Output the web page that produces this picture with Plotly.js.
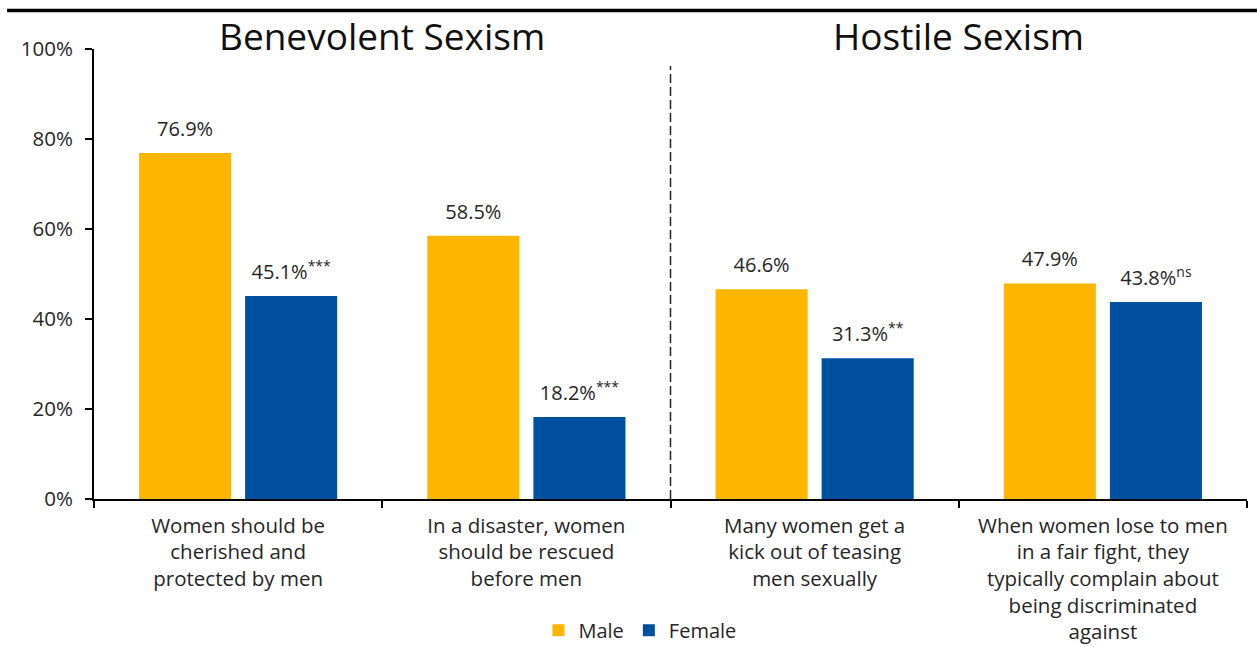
<!DOCTYPE html>
<html>
<head>
<meta charset="utf-8">
<script src="https://cdn.plot.ly/plotly-3.0.1.min.js"></script>
<style>html,body{margin:0;padding:0;background:#fff;}#chart{width:1257px;height:647px;}</style>
</head>
<body>
<div id="chart"></div>
<script>
var categories = ["c1", "c2", "c3", "c4"];
var categoryLabels = [
  "Women should be<br>cherished and<br>protected by men",
  "In a disaster, women<br>should be rescued<br>before men",
  "Many women get a<br>kick out of teasing<br>men sexually",
  "When women lose to men<br>in a fair fight, they<br>typically complain about<br>being discriminated<br>against"
];
var maleValues = [76.9, 58.5, 46.6, 47.9];
var femaleValues = [45.1, 18.2, 31.3, 43.8];
var significance = ["***", "***", "**", "ns"];
var groupTitles = ["Benevolent Sexism", "Hostile Sexism"];
var yTicks = [0, 20, 40, 60, 80, 100];
var yTickLabels = ["0%", "20%", "40%", "60%", "80%", "100%"];

var FONT = "Open Sans, Noto Sans, sans-serif";
var TXT = "#262626";
var YELLOW = "#FDB600";
var BLUE = "#0050A0";

var traces = [
  {type: "bar", name: "Male", x: categories, y: maleValues, marker: {color: YELLOW},
   offsetgroup: "m", hoverinfo: "skip"},
  {type: "bar", name: "Female", x: categories, y: femaleValues, marker: {color: BLUE},
   offsetgroup: "f", hoverinfo: "skip"},
  {type: "scatter", mode: "markers+text", x: categories, y: maleValues,
   text: maleValues.map(function(v){ return v.toFixed(1) + "%"; }),
   textposition: "top center", textfont: {family: FONT, size: 20, color: TXT},
   marker: {size: 17.6, opacity: 0}, offsetgroup: "m", showlegend: false, hoverinfo: "skip", cliponaxis: false},
  {type: "scatter", mode: "markers+text", x: categories, y: femaleValues,
   text: femaleValues.map(function(v, i){ return v.toFixed(1) + "%<sup>" + significance[i] + "</sup>"; }),
   textposition: "top center", textfont: {family: FONT, size: 20, color: TXT},
   marker: {size: 17.6, opacity: 0}, offsetgroup: "f", showlegend: false, hoverinfo: "skip", cliponaxis: false}
];

var layout = {
  width: 1257, height: 647,
  margin: {l: 94, r: 10, t: 49, b: 148, autoexpand: false},
  paper_bgcolor: "#fff", plot_bgcolor: "#fff",
  font: {family: FONT, size: 20, color: TXT},
  barmode: "group", bargap: 0.264, bargroupgap: 0.132,
  scattermode: "group", scattergap: 0.264,
  showlegend: true,
  legend: {orientation: "h", x: 0.4735, xanchor: "center", yref: "container", y: 0.026, yanchor: "middle",
           font: {family: FONT, size: 20, color: TXT}, traceorder: "normal"},
  xaxis: {type: "category", tickmode: "array", tickvals: categories, ticktext: categoryLabels,
          tickson: "boundaries", ticks: "outside", ticklen: 7, tickwidth: 2, tickcolor: "#000",
          showline: true, linecolor: "#000", linewidth: 2, showgrid: false, zeroline: false,
          tickfont: {family: FONT, size: 20.5, color: TXT}, tickangle: 0, ticklabelstandoff: 7,
          automargin: false, fixedrange: true},
  yaxis: {range: [0, 100], tickmode: "array", tickvals: yTicks, ticktext: yTickLabels,
          ticks: "outside", ticklen: 7, tickwidth: 2, tickcolor: "#000",
          showline: true, linecolor: "#000", linewidth: 2, showgrid: false, zeroline: false,
          tickfont: {family: FONT, size: 20.5, color: TXT}, ticklabelstandoff: 8,
          automargin: false, fixedrange: true},
  shapes: [
    {type: "line", xref: "paper", yref: "paper", x0: -0.0755, x1: 1.0087, y0: 1.0855, y1: 1.0855,
     line: {color: "#000", width: 3.5}},
    {type: "line", xref: "paper", yref: "paper", x0: 0.5, x1: 0.5, y0: 0, y1: 0.962,
     line: {color: "#222", width: 1.5, dash: "9px,4px"}}
  ],
  annotations: [
    {xref: "paper", yref: "paper", x: 0.25, y: 1.031, xanchor: "center", yanchor: "middle",
     text: groupTitles[0], showarrow: false, font: {family: FONT, size: 37, color: "#111"}},
    {xref: "paper", yref: "paper", x: 0.75, y: 1.031, xanchor: "center", yanchor: "middle",
     text: groupTitles[1], showarrow: false, font: {family: FONT, size: 37, color: "#111"}}
  ]
};

Plotly.newPlot("chart", traces, layout, {displayModeBar: false, staticPlot: true});
</script>
</body>
</html>
